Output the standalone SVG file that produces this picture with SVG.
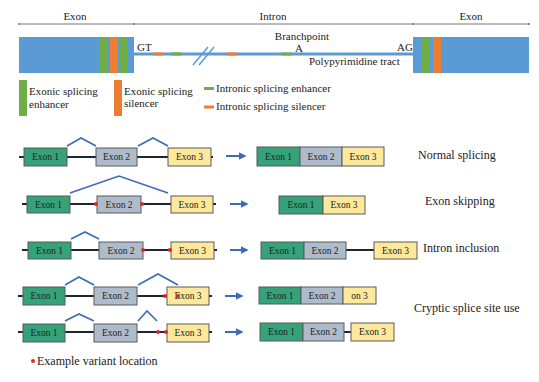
<svg xmlns="http://www.w3.org/2000/svg" width="539" height="382" viewBox="0 0 539 382" font-family="'Liberation Serif', 'Times New Roman', serif">
<defs>
<style>
text{font-family:'Liberation Serif','Times New Roman',serif;fill:#222}
.lbl{font-size:11px}
.big{font-size:12px}
.ex{font-size:9.5px;text-anchor:middle}
.e1{fill:#35a27a;stroke:#5a5a5a;stroke-width:1}
.e2{fill:#aebbcb;stroke:#5a5a5a;stroke-width:1}
.e3{fill:#fde89c;stroke:#5a5a5a;stroke-width:1}
.ln{stroke:#1f2633;stroke-width:2;fill:none}
.arc{stroke:#3b6cb5;stroke-width:1.6;fill:none}
.arr{stroke:#3b6cb5;stroke-width:2;fill:none}
.dot{fill:#e8221d}
.dim{stroke:#777;stroke-width:1}
</style>
<marker id="ah" viewBox="0 0 10 10" refX="8" refY="5" markerWidth="4" markerHeight="4" orient="auto"><path d="M0,0L10,5L0,10z" fill="#3b6cb5"/></marker>
</defs>
<rect width="539" height="382" fill="#fff"/>

<g id="gene">
<line class="dim" x1="19" y1="24" x2="529" y2="24"/>
<circle cx="19" cy="24" r="1" fill="#777"/><circle cx="134" cy="24" r="1" fill="#777"/><circle cx="413" cy="24" r="1" fill="#777"/><circle cx="529" cy="24" r="1" fill="#777"/>
<text class="lbl" x="75" y="20" text-anchor="middle">Exon</text>
<text class="lbl" x="273" y="20" text-anchor="middle">Intron</text>
<text class="lbl" x="471" y="20" text-anchor="middle">Exon</text>
<rect x="19" y="37" width="115" height="36" fill="#5b9bd5"/>
<rect x="99" y="37" width="8" height="36" fill="#70ad47"/>
<rect x="110" y="37" width="8" height="36" fill="#ed7d31"/>
<rect x="119" y="37" width="8" height="36" fill="#70ad47"/>
<rect x="134" y="52.5" width="279" height="3" fill="#5b9bd5"/>
<rect x="153" y="52.5" width="10" height="3" fill="#ed7d31"/>
<rect x="171" y="52.5" width="10" height="3" fill="#70ad47"/>
<rect x="227" y="52.5" width="10" height="3" fill="#ed7d31"/>
<rect x="282" y="52.5" width="10" height="3" fill="#70ad47"/>
<line x1="193" y1="65" x2="208" y2="47" stroke="#5b9bd5" stroke-width="1.5"/>
<line x1="199" y1="65" x2="214" y2="47" stroke="#5b9bd5" stroke-width="1.5"/>
<rect x="413" y="37" width="116" height="36" fill="#5b9bd5"/>
<rect x="422" y="37" width="7" height="36" fill="#70ad47"/>
<rect x="433" y="37" width="8" height="36" fill="#ed7d31"/>
<text class="lbl" x="137" y="51">GT</text>
<text class="lbl" x="397" y="51">AG</text>
<text class="lbl" x="302" y="40" text-anchor="middle">Branchpoint</text>
<text class="lbl" x="299" y="52" text-anchor="middle">A</text>
<text class="lbl" x="309" y="65">Polypyrimidine tract</text>
</g>

<g id="legend">
<rect x="19" y="80" width="8" height="36" fill="#70ad47"/>
<text class="lbl" x="29" y="95">Exonic splicing</text>
<text class="lbl" x="29" y="108">enhancer</text>
<rect x="114" y="80" width="8" height="36" fill="#ed7d31"/>
<text class="lbl" x="124" y="95">Exonic splicing</text>
<text class="lbl" x="124" y="107">silencer</text>
<rect x="204" y="87" width="10" height="3" fill="#70ad47"/>
<text class="lbl" x="216" y="92">Intronic splicing enhancer</text>
<rect x="204" y="105.5" width="10" height="3" fill="#ed7d31"/>
<text class="lbl" x="216" y="110">Intronic splicing silencer</text>
<circle class="dot" cx="33" cy="361" r="2"/>
<text class="big" x="37" y="365">Example variant location</text>
</g>

<g id="connectors">
<line class="ln" x1="19" y1="157" x2="213" y2="157"/>
<polyline class="arc" points="67,146 81,138 96,146"/>
<polyline class="arc" points="138,146 153,138 168,146"/>
<line class="arr" x1="226" y1="156" x2="245" y2="156" marker-end="url(#ah)"/>

<line class="ln" x1="22" y1="204" x2="216" y2="204"/>
<polyline class="arc" points="70,193 119,176 168,193"/>
<line class="arr" x1="230" y1="204" x2="247" y2="204" marker-end="url(#ah)"/>

<line class="ln" x1="22" y1="250" x2="217" y2="250"/>
<polyline class="arc" points="71,239 85,232 99,239"/>
<line class="arr" x1="230" y1="250" x2="247" y2="250" marker-end="url(#ah)"/>
<line class="ln" x1="346" y1="250" x2="375" y2="250"/>

<line class="ln" x1="18" y1="296" x2="212" y2="296"/>
<polyline class="arc" points="65,285 79,277 94,285"/>
<polyline class="arc" points="138,285 158,274 178,285"/>
<line class="arr" x1="225" y1="296" x2="242" y2="296" marker-end="url(#ah)"/>

<line class="ln" x1="18" y1="332" x2="212" y2="332"/>
<polyline class="arc" points="65,321 79,314 94,321"/>
<polyline class="arc" points="138,321 147,311 157,321"/>
<line class="arr" x1="225" y1="332" x2="242" y2="332" marker-end="url(#ah)"/>
<line class="ln" x1="344" y1="332" x2="351" y2="332"/>
</g>

<g id="row-normal">
<rect class="e1" x="24" y="148" width="43" height="18"/><text class="ex" x="45.5" y="160">Exon 1</text>
<rect class="e2" x="96" y="148" width="41" height="18"/><text class="ex" x="116.5" y="160">Exon 2</text>
<rect class="e3" x="168" y="148" width="43" height="18"/><text class="ex" x="189.5" y="160">Exon 3</text>
<rect class="e1" x="257" y="147" width="43" height="19"/><text class="ex" x="278.5" y="160">Exon 1</text>
<rect class="e2" x="300" y="147" width="42" height="19"/><text class="ex" x="321" y="160">Exon 2</text>
<rect class="e3" x="342" y="147" width="42" height="19"/><text class="ex" x="363" y="160">Exon 3</text>
<text class="big" x="418" y="159">Normal splicing</text>
</g>

<g id="row-skipping">
<rect class="e1" x="27" y="196" width="43" height="17"/><text class="ex" x="48.5" y="208">Exon 1</text>
<rect class="e2" x="97" y="196" width="44" height="17"/><text class="ex" x="119" y="208">Exon 2</text>
<rect class="e3" x="171" y="196" width="42" height="17"/><text class="ex" x="192" y="208">Exon 3</text>
<circle class="dot" cx="96" cy="204" r="2"/><circle class="dot" cx="142" cy="204" r="2"/>
<rect class="e1" x="279" y="196" width="44" height="18"/><text class="ex" x="301" y="208">Exon 1</text>
<rect class="e3" x="323" y="196" width="42" height="18"/><text class="ex" x="344" y="208">Exon 3</text>
<text class="big" x="425" y="205">Exon skipping</text>
</g>

<g id="row-intron">
<rect class="e1" x="28" y="242" width="43" height="17"/><text class="ex" x="49.5" y="254">Exon 1</text>
<rect class="e2" x="99" y="242" width="44" height="17"/><text class="ex" x="121" y="254">Exon 2</text>
<rect class="e3" x="171" y="242" width="43" height="17"/><text class="ex" x="192.5" y="254">Exon 3</text>
<circle class="dot" cx="143" cy="250" r="2"/><circle class="dot" cx="170" cy="250" r="2"/>
<rect class="e1" x="261" y="242" width="43" height="17"/><text class="ex" x="282.5" y="254">Exon 1</text>
<rect class="e2" x="304" y="242" width="42" height="17"/><text class="ex" x="325" y="254">Exon 2</text>
<rect class="e3" x="374" y="242" width="43" height="17"/><text class="ex" x="395.5" y="254">Exon 3</text>
<text class="big" x="423" y="252">Intron inclusion</text>
</g>

<g id="row-cryptic1">
<rect class="e1" x="23" y="287" width="42" height="18"/><text class="ex" x="44" y="299">Exon 1</text>
<rect class="e2" x="94" y="287" width="43" height="18"/><text class="ex" x="115.5" y="299">Exon 2</text>
<rect class="e3" x="167" y="287" width="42" height="18"/><text class="ex" x="188" y="299">Exon 3</text>
<circle class="dot" cx="165" cy="296" r="2"/><circle class="dot" cx="178" cy="296" r="2"/>
<rect class="e1" x="259" y="287" width="42" height="17"/><text class="ex" x="280" y="299">Exon 1</text>
<rect class="e2" x="301" y="287" width="42" height="17"/><text class="ex" x="322" y="299">Exon 2</text>
<rect class="e3" x="343" y="287" width="33" height="17"/><text class="ex" x="359.5" y="299">on 3</text>
<text class="big" x="414" y="312">Cryptic splice site use</text>
</g>

<g id="row-cryptic2">
<rect class="e1" x="23" y="324" width="42" height="18"/><text class="ex" x="44" y="336">Exon 1</text>
<rect class="e2" x="94" y="324" width="43" height="18"/><text class="ex" x="115.5" y="336">Exon 2</text>
<rect class="e3" x="167" y="324" width="42" height="18"/><text class="ex" x="188" y="336">Exon 3</text>
<circle class="dot" cx="158" cy="332" r="2"/><circle class="dot" cx="166" cy="332" r="2"/>
<rect class="e1" x="260" y="323" width="43" height="18"/><text class="ex" x="281.5" y="335">Exon 1</text>
<rect class="e2" x="303" y="323" width="41" height="18"/><text class="ex" x="323.5" y="335">Exon 2</text>
<rect class="e3" x="351" y="323" width="43" height="18"/><text class="ex" x="372.5" y="335">Exon 3</text>
</g>
</svg>
